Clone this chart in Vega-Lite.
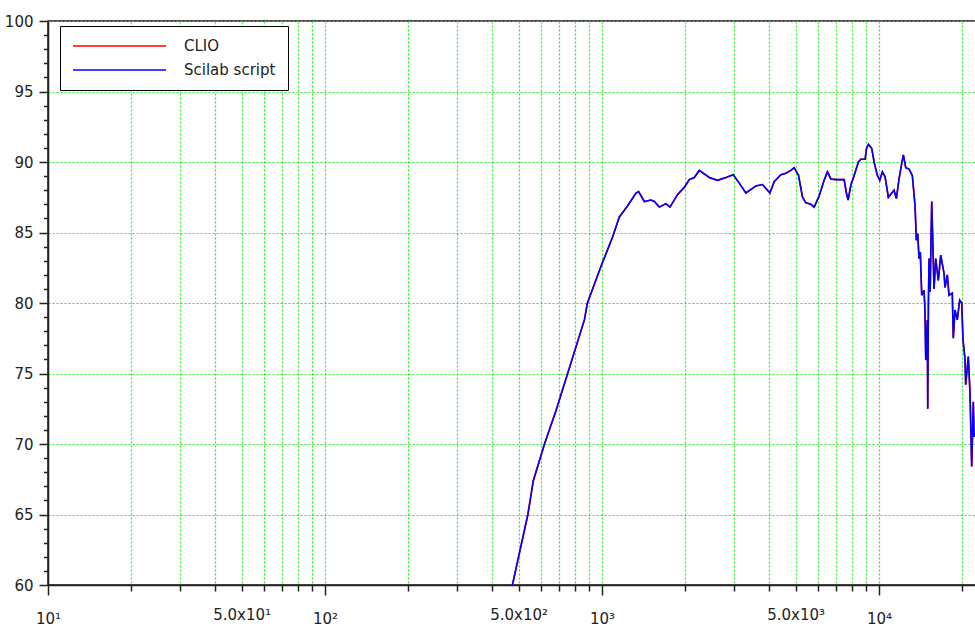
{
  "$schema": "https://vega.github.io/schema/vega-lite/v6.json",
  "width": 928,
  "height": 564,
  "autosize": {"type": "none"},
  "padding": {"left": 48, "top": 21, "right": 0, "bottom": 43},
  "background": "white",
  "config": {
    "view": {"stroke": "#111", "strokeWidth": 1.5},
    "font": "DejaVu Sans",
    "legend": {"strokeColor": "#000", "fillColor": "#fff"}
  },
  "data": {
    "values": [
      {"f": 470, "CLIO": 59.6, "Scilab script": 59.6},
      {"f": 540, "CLIO": 65.0, "Scilab script": 65.0},
      {"f": 565, "CLIO": 67.4, "Scilab script": 67.4},
      {"f": 620, "CLIO": 70.0, "Scilab script": 70.0},
      {"f": 683, "CLIO": 72.4, "Scilab script": 72.4},
      {"f": 738, "CLIO": 74.5, "Scilab script": 74.5},
      {"f": 864, "CLIO": 78.8, "Scilab script": 78.8},
      {"f": 886, "CLIO": 80.0, "Scilab script": 80.0},
      {"f": 992, "CLIO": 82.6, "Scilab script": 82.6},
      {"f": 1093, "CLIO": 84.7, "Scilab script": 84.7},
      {"f": 1155, "CLIO": 86.1, "Scilab script": 86.1},
      {"f": 1238, "CLIO": 86.9, "Scilab script": 86.9},
      {"f": 1327, "CLIO": 87.8, "Scilab script": 87.8},
      {"f": 1356, "CLIO": 87.9, "Scilab script": 87.9},
      {"f": 1422, "CLIO": 87.2, "Scilab script": 87.2},
      {"f": 1503, "CLIO": 87.3, "Scilab script": 87.3},
      {"f": 1545, "CLIO": 87.2, "Scilab script": 87.2},
      {"f": 1611, "CLIO": 86.8, "Scilab script": 86.8},
      {"f": 1702, "CLIO": 87.05, "Scilab script": 87.05},
      {"f": 1760, "CLIO": 86.8, "Scilab script": 86.8},
      {"f": 1875, "CLIO": 87.7, "Scilab script": 87.7},
      {"f": 1982, "CLIO": 88.2, "Scilab script": 88.2},
      {"f": 2067, "CLIO": 88.75, "Scilab script": 88.75},
      {"f": 2154, "CLIO": 88.9, "Scilab script": 88.9},
      {"f": 2245, "CLIO": 89.4, "Scilab script": 89.4},
      {"f": 2440, "CLIO": 88.9, "Scilab script": 88.9},
      {"f": 2614, "CLIO": 88.7, "Scilab script": 88.7},
      {"f": 2803, "CLIO": 88.9, "Scilab script": 88.9},
      {"f": 2977, "CLIO": 89.1, "Scilab script": 89.1},
      {"f": 3130, "CLIO": 88.5, "Scilab script": 88.5},
      {"f": 3308, "CLIO": 87.8, "Scilab script": 87.8},
      {"f": 3596, "CLIO": 88.3, "Scilab script": 88.3},
      {"f": 3798, "CLIO": 88.4, "Scilab script": 88.4},
      {"f": 4038, "CLIO": 87.8, "Scilab script": 87.8},
      {"f": 4185, "CLIO": 88.6, "Scilab script": 88.6},
      {"f": 4424, "CLIO": 89.1, "Scilab script": 89.1},
      {"f": 4612, "CLIO": 89.2, "Scilab script": 89.2},
      {"f": 4808, "CLIO": 89.4, "Scilab script": 89.4},
      {"f": 4942, "CLIO": 89.6, "Scilab script": 89.6},
      {"f": 5122, "CLIO": 89.05, "Scilab script": 89.05},
      {"f": 5295, "CLIO": 87.5, "Scilab script": 87.5},
      {"f": 5445, "CLIO": 87.1, "Scilab script": 87.1},
      {"f": 5678, "CLIO": 87.0, "Scilab script": 87.0},
      {"f": 5834, "CLIO": 86.8, "Scilab script": 86.8},
      {"f": 6081, "CLIO": 87.6, "Scilab script": 87.6},
      {"f": 6339, "CLIO": 88.7, "Scilab script": 88.7},
      {"f": 6515, "CLIO": 89.3, "Scilab script": 89.3},
      {"f": 6702, "CLIO": 88.8, "Scilab script": 88.8},
      {"f": 6987, "CLIO": 88.75, "Scilab script": 88.75},
      {"f": 7485, "CLIO": 88.75, "Scilab script": 88.75},
      {"f": 7628, "CLIO": 87.8, "Scilab script": 87.8},
      {"f": 7737, "CLIO": 87.3, "Scilab script": 87.3},
      {"f": 7912, "CLIO": 88.35, "Scilab script": 88.35},
      {"f": 8135, "CLIO": 89.05, "Scilab script": 89.05},
      {"f": 8429, "CLIO": 90.0, "Scilab script": 90.0},
      {"f": 8600, "CLIO": 90.2, "Scilab script": 90.2},
      {"f": 8913, "CLIO": 90.2, "Scilab script": 90.2},
      {"f": 9009, "CLIO": 90.95, "Scilab script": 90.95},
      {"f": 9160, "CLIO": 91.25, "Scilab script": 91.25},
      {"f": 9420, "CLIO": 90.95, "Scilab script": 90.95},
      {"f": 9603, "CLIO": 90.0, "Scilab script": 90.0},
      {"f": 9868, "CLIO": 89.05, "Scilab script": 89.05},
      {"f": 10067, "CLIO": 88.7, "Scilab script": 88.7},
      {"f": 10287, "CLIO": 89.3, "Scilab script": 89.3},
      {"f": 10519, "CLIO": 88.95, "Scilab script": 88.95},
      {"f": 10810, "CLIO": 87.5, "Scilab script": 87.5},
      {"f": 11120, "CLIO": 87.8, "Scilab script": 87.8},
      {"f": 11334, "CLIO": 88.0, "Scilab script": 88.0},
      {"f": 11554, "CLIO": 87.4, "Scilab script": 87.4},
      {"f": 11815, "CLIO": 88.8, "Scilab script": 88.8},
      {"f": 12083, "CLIO": 89.9, "Scilab script": 89.9},
      {"f": 12246, "CLIO": 90.5, "Scilab script": 90.5},
      {"f": 12493, "CLIO": 89.6, "Scilab script": 89.6},
      {"f": 12838, "CLIO": 89.5, "Scilab script": 89.5},
      {"f": 13194, "CLIO": 89.05, "Scilab script": 89.05},
      {"f": 13495, "CLIO": 86.9, "Scilab script": 86.9},
      {"f": 13642, "CLIO": 84.45, "Scilab script": 84.45},
      {"f": 13800, "CLIO": 84.9, "Scilab script": 84.9},
      {"f": 13951, "CLIO": 83.15, "Scilab script": 83.15},
      {"f": 14100, "CLIO": 83.6, "Scilab script": 83.6},
      {"f": 14267, "CLIO": 80.55, "Scilab script": 80.55},
      {"f": 14542, "CLIO": 80.9, "Scilab script": 80.9},
      {"f": 14650, "CLIO": 79.6, "Scilab script": 79.6},
      {"f": 14751, "CLIO": 75.95, "Scilab script": 75.95},
      {"f": 14946, "CLIO": 78.8, "Scilab script": 78.8},
      {"f": 14997, "CLIO": 72.5, "Scilab script": 72.5},
      {"f": 15080, "CLIO": 79.9, "Scilab script": 79.9},
      {"f": 15160, "CLIO": 83.15, "Scilab script": 83.15},
      {"f": 15300, "CLIO": 80.8, "Scilab script": 80.8},
      {"f": 15503, "CLIO": 87.2, "Scilab script": 87.2},
      {"f": 15672, "CLIO": 83.7, "Scilab script": 83.7},
      {"f": 15802, "CLIO": 81.0, "Scilab script": 81.0},
      {"f": 16026, "CLIO": 83.15, "Scilab script": 83.15},
      {"f": 16377, "CLIO": 81.6, "Scilab script": 81.6},
      {"f": 16708, "CLIO": 83.4, "Scilab script": 83.4},
      {"f": 17172, "CLIO": 82.1, "Scilab script": 82.1},
      {"f": 17315, "CLIO": 81.1, "Scilab script": 81.1},
      {"f": 17647, "CLIO": 82.0, "Scilab script": 82.0},
      {"f": 17897, "CLIO": 80.55, "Scilab script": 80.55},
      {"f": 18394, "CLIO": 80.7, "Scilab script": 80.7},
      {"f": 18547, "CLIO": 77.5, "Scilab script": 77.5},
      {"f": 18810, "CLIO": 79.5, "Scilab script": 79.5},
      {"f": 19173, "CLIO": 78.8, "Scilab script": 78.8},
      {"f": 19561, "CLIO": 80.2, "Scilab script": 80.2},
      {"f": 19889, "CLIO": 80.0, "Scilab script": 80.0},
      {"f": 20106, "CLIO": 77.4, "Scilab script": 77.4},
      {"f": 20443, "CLIO": 76.0, "Scilab script": 76.0},
      {"f": 20561, "CLIO": 74.2, "Scilab script": 74.2},
      {"f": 21011, "CLIO": 76.2, "Scilab script": 76.2},
      {"f": 21313, "CLIO": 73.6, "Scilab script": 73.6},
      {"f": 21615, "CLIO": 68.4, "Scilab script": 68.4},
      {"f": 21906, "CLIO": 73.0, "Scilab script": 73.0},
      {"f": 22050, "CLIO": 70.5, "Scilab script": 70.5}
    ]
  },
  "transform": [
    {"fold": ["CLIO", "Scilab script"], "as": ["series", "db"]}
  ],
  "mark": {"type": "line", "clip": true, "strokeWidth": 1.6},
  "encoding": {
    "x": {
      "field": "f",
      "type": "quantitative",
      "scale": {"type": "log", "domain": [10, 22400], "nice": false},
      "axis": {
        "title": null,
        "values": [10, 20, 30, 40, 50, 60, 70, 80, 90, 100, 200, 300, 400, 500, 600, 700, 800, 900, 1000, 2000, 3000, 4000, 5000, 6000, 7000, 8000, 9000, 10000, 20000],
        "labelExpr": "datum.value == 10 ? '10¹' : datum.value == 50 ? '5.0x10¹' : datum.value == 100 ? '10²' : datum.value == 500 ? '5.0x10²' : datum.value == 1000 ? '10³' : datum.value == 5000 ? '5.0x10³' : datum.value == 10000 ? '10⁴' : ''",
        "grid": true,
        "gridColor": "#22ee22",
        "gridDash": [2, 2],
        "gridWidth": 1.2,
        "domainColor": "#222",
        "domainWidth": 1.5,
        "tickColor": "#222",
        "tickWidth": 1.5,
        "tickSize": {"condition": {"test": "datum.value == 10 || datum.value == 100 || datum.value == 1000 || datum.value == 10000", "value": 10}, "value": 6},
        "labelFontSize": 15,
        "labelFont": "DejaVu Sans",
        "labelColor": "#222",
        "labelBaseline": "alphabetic",
        "labelPadding": 28,
        "labelFlush": false,
        "labelOverlap": false,
        "labelBound": false
      }
    },
    "y": {
      "field": "db",
      "type": "quantitative",
      "scale": {"domain": [60, 100], "nice": false, "zero": false},
      "axis": {
        "title": null,
        "values": [60, 61, 62, 63, 64, 65, 66, 67, 68, 69, 70, 71, 72, 73, 74, 75, 76, 77, 78, 79, 80, 81, 82, 83, 84, 85, 86, 87, 88, 89, 90, 91, 92, 93, 94, 95, 96, 97, 98, 99, 100],
        "labelExpr": "datum.value % 5 == 0 ? datum.label : ''",
        "grid": true,
        "gridColor": "#22ee22",
        "gridDash": [2, 2],
        "gridWidth": 1.2,
        "gridOpacity": {"condition": {"test": "datum.value % 5 == 0", "value": 1}, "value": 0},
        "domainColor": "#222",
        "domainWidth": 1.5,
        "tickColor": "#222",
        "tickWidth": 1.5,
        "tickSize": {"condition": {"test": "datum.value % 5 == 0", "value": 9}, "value": 4.5},
        "labelFontSize": 15,
        "labelFont": "DejaVu Sans",
        "labelColor": "#222",
        "labelPadding": 6,
        "labelFlush": false,
        "labelOverlap": false,
        "labelBound": false
      }
    },
    "color": {
      "field": "series",
      "type": "nominal",
      "scale": {"domain": ["CLIO", "Scilab script"], "range": ["#ff0000", "#0000ff"]},
      "legend": {
        "title": null,
        "orient": "none",
        "legendX": 12,
        "legendY": 5,
        "symbolType": "stroke",
        "symbolSize": 8649,
        "symbolStrokeWidth": 1.5,
        "clipHeight": 16,
        "rowPadding": 8,
        "padding": 12,
        "labelOffset": 17,
        "labelFontSize": 15,
        "labelFont": "DejaVu Sans",
        "labelColor": "#222"
      }
    }
  }
}
